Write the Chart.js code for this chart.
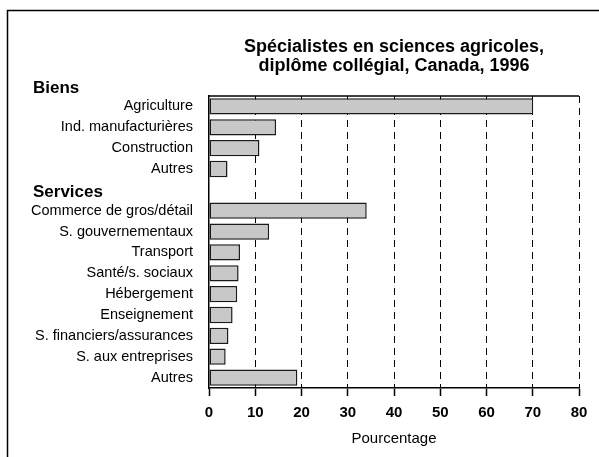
<!DOCTYPE html>
<html>
<head>
<meta charset="utf-8">
<script src="https://cdn.jsdelivr.net/npm/chart.js@4/dist/chart.umd.min.js"></script>
<style>
  html, body { margin: 0; padding: 0; background: #fff; }
  #wrap { width: 599px; height: 457px; }
</style>
</head>
<body>
<div id="wrap"><canvas id="chart" width="599" height="457"></canvas></div>
<script>
// data
var titleLines = ['Spécialistes en sciences agricoles,', 'diplôme collégial, Canada, 1996'];
var groupNames = ['Biens', 'Services'];
var categories = [
  'Agriculture', 'Ind. manufacturières', 'Construction', 'Autres',
  '',
  'Commerce de gros/détail', 'S. gouvernementaux', 'Transport', 'Santé/s. sociaux',
  'Hébergement', 'Enseignement', 'S. financiers/assurances', 'S. aux entreprises', 'Autres'
];
var values = [70.1, 14.5, 10.9, 4.0, null, 34.1, 13.0, 6.7, 6.4, 6.1, 5.1, 4.2, 3.6, 19.1];
var xMin = 0, xMax = 80, xStep = 10;
var xTitle = 'Pourcentage';

var FONT = "Arial, 'Liberation Sans', Helvetica, sans-serif";

// frame, title and group headers
var decor = {
  id: 'decor',
  beforeDraw: function(chart) {
    var ctx = chart.ctx;
    ctx.save();
    ctx.fillStyle = '#fff';
    ctx.fillRect(0, 0, chart.width, chart.height);
    ctx.strokeStyle = '#000';
    ctx.lineWidth = 1.5;
    ctx.beginPath();
    ctx.moveTo(7.5, chart.height);
    ctx.lineTo(7.5, 10.5);
    ctx.lineTo(chart.width, 10.5);
    ctx.stroke();
    ctx.restore();
  },
  afterDraw: function(chart) {
    var ctx = chart.ctx;
    var area = chart.chartArea;
    var y = chart.scales.y;
    ctx.save();
    // top border of the plot
    ctx.strokeStyle = '#000';
    ctx.lineWidth = 1.5;
    ctx.beginPath();
    ctx.moveTo(area.left, area.top);
    ctx.lineTo(area.right, area.top);
    ctx.stroke();

    ctx.fillStyle = '#000';
    ctx.font = 'bold 18px ' + FONT;
    ctx.textAlign = 'center';
    ctx.textBaseline = 'middle';
    var cx = (area.left + area.right) / 2;
    ctx.fillText(titleLines[0], cx, 47);
    ctx.fillText(titleLines[1], cx, 66);

    ctx.font = 'bold 17px ' + FONT;
    ctx.textAlign = 'left';
    ctx.fillText(groupNames[0], 33, y.getPixelForValue(0) - 18);
    ctx.fillText(groupNames[1], 33, y.getPixelForValue(4) + 2);
    ctx.restore();
  }
};

new Chart(document.getElementById('chart'), {
  type: 'bar',
  data: {
    labels: categories,
    datasets: [{
      data: values,
      backgroundColor: '#c8c8c8',
      borderColor: '#1a1a1a',
      borderWidth: 1.5,
      borderSkipped: false,
      barPercentage: 0.78,
      categoryPercentage: 1
    }]
  },
  options: {
    indexAxis: 'y',
    responsive: false,
    animation: false,
    layout: { padding: { left: 0, top: 96, right: 20, bottom: 0 } },
    plugins: {
      legend: { display: false },
      title: { display: false },
      tooltip: { enabled: false }
    },
    scales: {
      x: {
        min: xMin,
        max: xMax,
        ticks: {
          stepSize: xStep,
          color: '#000',
          font: { family: FONT, size: 15, weight: 'bold' },
          padding: 8
        },
        grid: {
          color: function(c) { return c.index === 0 ? 'rgba(0,0,0,0)' : '#000'; },
          lineWidth: 1,
          tickColor: '#000',
          tickLength: 8,
          tickWidth: 1.5
        },
        border: { display: true, color: '#000', width: 1.5, dash: [7, 5] },
        title: {
          display: true,
          text: xTitle,
          color: '#000',
          font: { family: FONT, size: 15 },
          padding: { top: 4, bottom: 9 }
        },
        afterFit: function(scale) { scale.height = 69; }
      },
      y: {
        ticks: {
          color: '#000',
          font: { family: FONT, size: 14.5 },
          padding: 16,
          autoSkip: false
        },
        grid: { display: false, drawTicks: false },
        border: { display: true, color: '#000', width: 1.5 },
        afterFit: function(scale) { scale.width = 209; }
      }
    }
  },
  plugins: [decor]
});
</script>
</body>
</html>
